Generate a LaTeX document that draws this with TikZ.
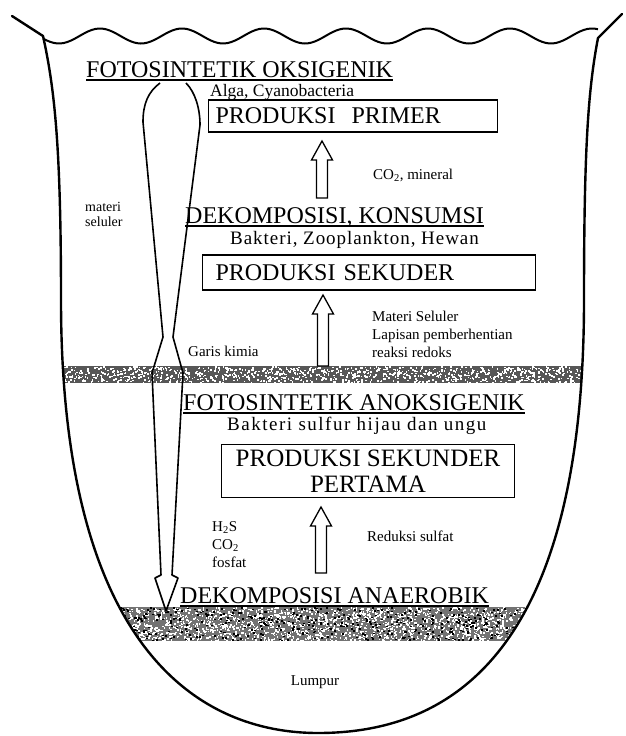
\documentclass[tikz,border=0pt]{standalone}
\usepackage{fontspec}
\setmainfont{Liberation Serif}
\usetikzlibrary{positioning,calc}
\tikzset{
  every node/.style={inner sep=0pt},
  zone/.style={font=\fontsize{24}{26}\selectfont, anchor=base west},
  organism/.style={font=\fontsize{19}{22}\selectfont\addfontfeature{LetterSpace=5}, anchor=base west},
  prodbox/.style={
    rectangle, draw, line width=1.1pt,
    font=\fontsize{24}{27}\selectfont, align=center
  },
  note/.style={font=\fontsize{15}{18}\selectfont, anchor=base west, align=left},
  liftarrow/.style={draw, line width=1.3pt, fill=white, line join=miter},
  wall/.style={line width=2.4pt, line cap=round, line join=round},
  flask/.style={line width=1.6pt, line join=round},
  rule/.style={line width=1.1pt},
}
% hollow block arrow: #1 base, #2 tip
\newcommand\liftarrow[2]{%
  \draw[liftarrow] ($(#1)+(-5.5,0)$) -- ($(#2)+(-5.5,19)$) -- ($(#2)+(-10.5,19)$)
    -- (#2) -- ($(#2)+(10.5,19)$) -- ($(#2)+(5.5,19)$) -- ($(#1)+(5.5,0)$) -- cycle;}
% line under a zone title
\newcommand\zoneline[1]{%
  \draw[rule] ([yshift=-3pt]#1.base west) -- ([yshift=-3pt]#1.base east);}

\begin{document}
\begin{tikzpicture}[x=1pt,y=-1pt]
  \useasboundingbox (0,0) rectangle (626,736);

  % noisy layers inside the basin
  \begin{scope}
    \clip (43,36) .. controls (55,90) and (61,150) .. (61,300)
      .. controls (61,650) and (200,733) .. (318,733)
      .. controls (445,733) and (584,660) .. (584,300)
      .. controls (584,150) and (588,90) .. (598,38) -- cycle;
    \pgfmathsetseed{11}
    \fill[black!66] (40,366) rectangle (600,383);
    \fill[black!55] (40,607) rectangle (600,641);
    \foreach \k in {1,...,1100}
      \fill[white] ({45+rnd*550},{366+rnd*16}) rectangle ++(1.6,1.6);
    \foreach \k in {1,...,2000}
      \fill[white] ({100+rnd*440},{607+rnd*33}) rectangle ++(1.6,1.6);
    \foreach \k in {1,...,500}
      \fill[black] ({100+rnd*440},{607+rnd*33}) rectangle ++(2,1.6);
  \end{scope}

  % basin and water surface
  \draw[wall] (12,16) -- (43,36) .. controls (55,90) and (61,150) .. (61,300)
    .. controls (61,650) and (200,733) .. (318,733)
    .. controls (445,733) and (584,660) .. (584,300)
    .. controls (584,150) and (588,90) .. (598,38) -- (622,14);
  \draw[line width=2pt] plot[domain=43:598, samples=160, smooth]
    (\x,{36-7.5*sin((\x-79.5)/82*360)});

  % sinking cell matter
  \draw[flask] (160,83) .. controls (148,92) and (143,104) .. (143,122)
    -- (163,337) -- (152,373) -- (161,575) -- (155,578) -- (166,611)
    -- (178,578) -- (172,575) -- (183,373) -- (173,337) -- (200,125)
    .. controls (200,108) and (195,92) .. (186,83);

  % upper zone
  \node[zone] (oksi) at (86,77) {FOTOSINTETIK OKSIGENIK};
  \zoneline{oksi}
  \node[organism, font=\fontsize{17.5}{20}\selectfont] (alga) at (210,96) {Alga, Cyanobacteria};
  \node[prodbox, anchor=west, text width=275, inner xsep=7, minimum height=32, align=left] (primer) at (208,116) {PRODUKSI\ \ PRIMER};
  \coordinate (a1tip) at (322,141);
  \coordinate (a1base) at (322,198);
  \liftarrow{a1base}{a1tip}
  \node[note] (mineral) at (373,179) {CO\textsubscript{2}, mineral};
  \node[note, font=\fontsize{14}{15}\selectfont] (materi) at (85,226) {materi\\seluler};

  % middle zone
  \node[zone] (konsumsi) at (185,223) {DEKOMPOSISI, KONSUMSI};
  \zoneline{konsumsi}
  \node[organism] (hewan) at (230,244) {Bakteri, Zooplankton, Hewan};
  \node[prodbox, anchor=west, text width=307, inner xsep=13, minimum height=35, align=left] (sekuder) at (202,272.5) {PRODUKSI SEKUDER};
  \coordinate (a2tip) at (323,295);
  \coordinate (a2base) at (323,366);
  \liftarrow{a2base}{a2tip}
  \node[note] (redoks) at (372,357) {Materi Seluler\\Lapisan pemberhentian\\reaksi redoks};
  \node[note] (garis) at (188,356) {Garis kimia};

  % lower zone
  \node[zone] (anoksi) at (183,410) {FOTOSINTETIK ANOKSIGENIK};
  \zoneline{anoksi}
  \node[organism, font=\fontsize{19}{22}\selectfont\addfontfeature{LetterSpace=8}] (sulfur) at (227,430) {Bakteri sulfur hijau dan ungu};
  \node[prodbox, minimum width=293, minimum height=53, font=\fontsize{25}{26}\selectfont] (pertama) at (368,471) {PRODUKSI SEKUNDER\\PERTAMA};
  \coordinate (a3tip) at (321,507);
  \coordinate (a3base) at (321,573);
  \liftarrow{a3base}{a3tip}
  \node[note] (gas) at (212,567) {H\textsubscript{2}S\\CO\textsubscript{2}\\fosfat};
  \node[note] (reduksi) at (367,541) {Reduksi sulfat};

  % bottom
  \node[zone] (anaerob) at (180,603) {DEKOMPOSISI ANAEROBIK};
  \zoneline{anaerob}
  \node[note, anchor=center] (lumpur) at (315,682) {Lumpur};
\end{tikzpicture}
\end{document}
